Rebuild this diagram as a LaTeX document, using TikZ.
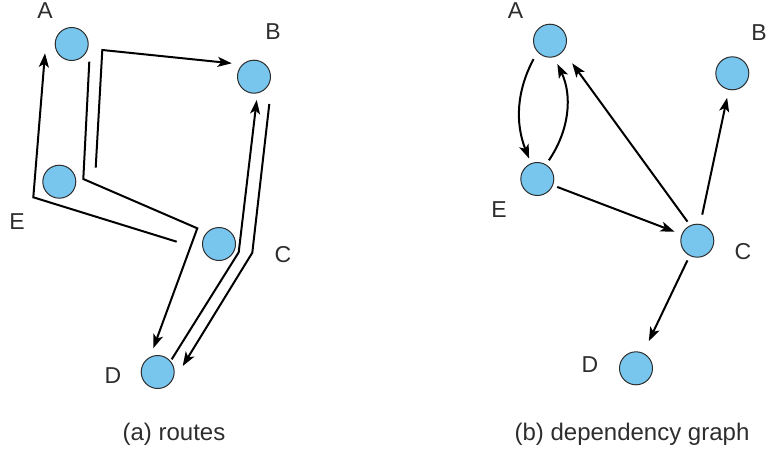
\documentclass[tikz,border=0pt]{standalone}
\usepackage{fontspec}
\setmainfont{Liberation Sans}
\usepackage{tikz}
\usetikzlibrary{arrows.meta}
\definecolor{nodeblue}{RGB}{120,198,238}
\definecolor{inkgray}{RGB}{45,45,45}

\begin{document}
\begin{tikzpicture}[x=1pt, y=-1pt,
  station/.style={circle, draw=inkgray, line width=1pt, fill=nodeblue, minimum size=33pt, inner sep=0pt},
  lbl/.style={font=\fontsize{23}{27}\selectfont, text=inkgray, inner sep=0pt},
  subcap/.style={font=\fontsize{24}{28}\selectfont, text=inkgray, inner sep=0pt},
  route/.style={line width=2pt, -{Stealth[length=14pt, width=10pt, inset=3.5pt]}},
  dep/.style={line width=2pt, -{Stealth[length=14pt, width=10pt, inset=3.5pt]}}]
  \useasboundingbox (0,0) rectangle (767,452);
  \node[station] (lA) at (71.7,44) {};
  \node[station] (lB) at (254,76.7) {};
  \node[station] (lE) at (59.3,181.7) {};
  \node[station] (lC) at (219,244) {};
  \node[station] (lD) at (157.7,372) {};
  \node[lbl] (lAt) at (45,11) {A};
  \node[lbl] (lBt) at (273,32) {B};
  \node[lbl] (lEt) at (17,222) {E};
  \node[lbl] (lCt) at (283,255) {C};
  \node[lbl] (lDt) at (113,376) {D};
  \coordinate (eaS) at (176.7,241.7);
  \coordinate (eaK) at (33.3,197.3);
  \coordinate (eaT) at (45,53.3);
  \coordinate (adS) at (89.3,61.7);
  \coordinate (adK) at (83.3,179);
  \coordinate (adL) at (197.3,228.3);
  \coordinate (adT) at (153.3,348.3);
  \coordinate (ebS) at (95.7,167.7);
  \coordinate (ebK) at (102.3,50);
  \coordinate (ebT) at (231.7,63.3);
  \coordinate (dbS) at (171.7,359.3);
  \coordinate (dbK) at (238.7,252.3);
  \coordinate (dbT) at (256.7,100);
  \coordinate (bdS) at (269.3,104);
  \coordinate (bdK) at (252.3,252.7);
  \coordinate (bdT) at (182.7,366);
  \draw[route] (eaS) -- (eaK) -- (eaT);
  \draw[route] (adS) -- (adK) -- (adL) -- (adT);
  \draw[route] (ebS) -- (ebK) -- (ebT);
  \draw[route] (dbS) -- (dbK) -- (dbT);
  \draw[route] (bdS) -- (bdK) -- (bdT);
  \node[subcap] (capa) at (174,434) {(a) routes};
  \node[station] (dA) at (550,40.7) {};
  \node[station] (dB) at (732.3,73.3) {};
  \node[station] (dE) at (537.3,179) {};
  \node[station] (dC) at (697.3,240.7) {};
  \node[station] (dD) at (636,368.3) {};
  \node[lbl] (dAt) at (515.5,10.5) {A};
  \node[lbl] (dBt) at (759,33) {B};
  \node[lbl] (dEt) at (499,210) {E};
  \node[lbl] (dCt) at (743,252) {C};
  \node[lbl] (dDt) at (590,365) {D};
  \draw[dep, shorten <=8pt, shorten >=5pt] (dA.222) to[bend right=25] (dE.112);
  \draw[dep, shorten <=5pt, shorten >=7.5pt] (dE.59) to[bend right=30] (dA.284);
  \draw[dep, shorten <=4.4pt, shorten >=7.5pt] (dE.338) -- (dC.158);
  \draw[dep, shorten <=4.5pt, shorten >=15pt] (dC.115) -- (dA.322);
  \draw[dep, shorten <=9.5pt, shorten >=8pt] (dC.80) -- (dB.258);
  \draw[dep, shorten <=5pt, shorten >=13pt] (dC.243) -- (dD.65);
  \node[subcap] (capb) at (632,434) {(b) dependency graph};
\end{tikzpicture}
\end{document}
